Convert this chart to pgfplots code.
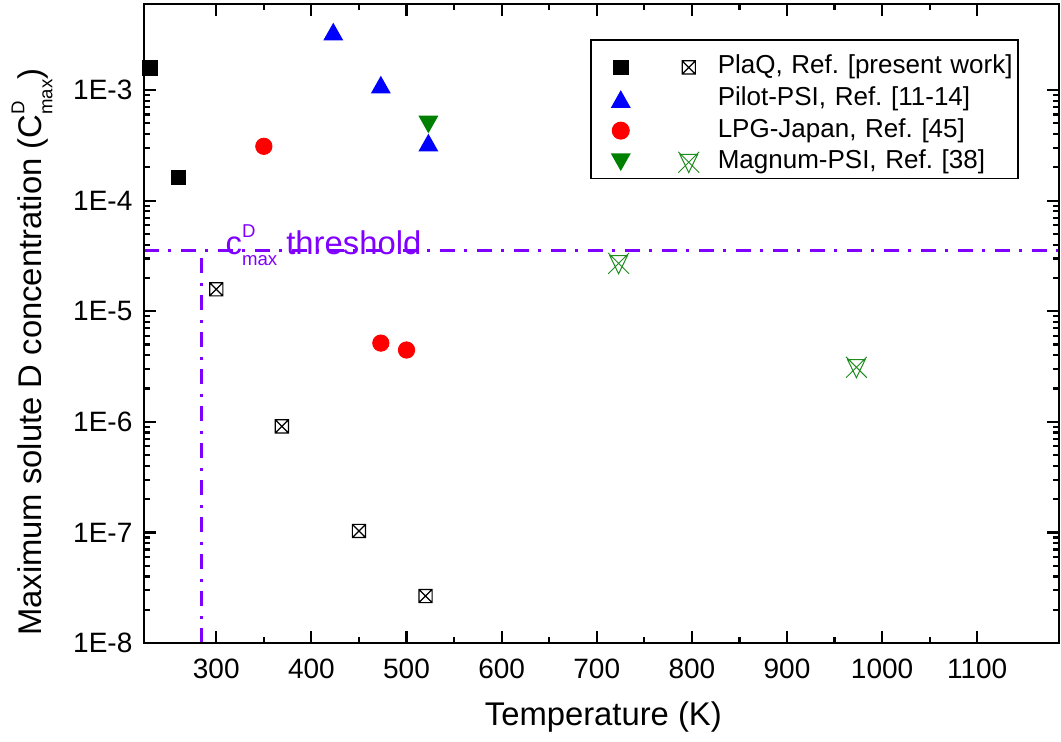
\documentclass[border=0pt]{standalone}
\usepackage{amsmath}
\usepackage{pgfplots}
\pgfplotsset{compat=1.18}
\usepackage{fontspec}
\setmainfont{Liberation Sans}

\definecolor{pgreen}{RGB}{0,128,0}
\definecolor{mgreen}{RGB}{30,140,30}
\definecolor{thr}{RGB}{128,0,255}

% letter with a raised D and a lowered "max"
\newcommand{\cmax}[1]{#1\rlap{\raisebox{8.5pt}{\fontsize{9.3}{10}\selectfont D}}\raisebox{-5.5pt}{\fontsize{9.3}{10}\selectfont max}}

% open square with a cross
\pgfdeclareplotmark{boxx}{%
  \pgfpathrectangle{\pgfqpoint{-\pgfplotmarksize}{-\pgfplotmarksize}}{\pgfqpoint{2\pgfplotmarksize}{2\pgfplotmarksize}}%
  \pgfpathmoveto{\pgfqpoint{-\pgfplotmarksize}{-\pgfplotmarksize}}%
  \pgfpathlineto{\pgfqpoint{\pgfplotmarksize}{\pgfplotmarksize}}%
  \pgfpathmoveto{\pgfqpoint{-\pgfplotmarksize}{\pgfplotmarksize}}%
  \pgfpathlineto{\pgfqpoint{\pgfplotmarksize}{-\pgfplotmarksize}}%
  \pgfusepathqstroke}
% down triangle with a cross
\pgfdeclareplotmark{hglass}{%
  \pgfpathmoveto{\pgfqpoint{-\pgfplotmarksize}{\pgfplotmarksize}}%
  \pgfpathlineto{\pgfqpoint{\pgfplotmarksize}{-\pgfplotmarksize}}%
  \pgfpathmoveto{\pgfqpoint{\pgfplotmarksize}{\pgfplotmarksize}}%
  \pgfpathlineto{\pgfqpoint{-\pgfplotmarksize}{-\pgfplotmarksize}}%
  \pgfpathmoveto{\pgfqpoint{-0.85\pgfplotmarksize}{0.75\pgfplotmarksize}}%
  \pgfpathlineto{\pgfqpoint{0.85\pgfplotmarksize}{0.75\pgfplotmarksize}}%
  \pgfpathlineto{\pgfqpoint{0pt}{-\pgfplotmarksize}}%
  \pgfpathclose
  \pgfusepathqstroke}
% filled triangles centred on their box
\pgfdeclareplotmark{tup}{%
  \pgfpathmoveto{\pgfqpoint{-\pgfplotmarksize}{-0.885\pgfplotmarksize}}%
  \pgfpathlineto{\pgfqpoint{\pgfplotmarksize}{-0.885\pgfplotmarksize}}%
  \pgfpathlineto{\pgfqpoint{0pt}{0.885\pgfplotmarksize}}%
  \pgfpathclose
  \pgfusepathqfill}
\pgfdeclareplotmark{tdown}{%
  \pgfpathmoveto{\pgfqpoint{-\pgfplotmarksize}{0.885\pgfplotmarksize}}%
  \pgfpathlineto{\pgfqpoint{\pgfplotmarksize}{0.885\pgfplotmarksize}}%
  \pgfpathlineto{\pgfqpoint{0pt}{-0.885\pgfplotmarksize}}%
  \pgfpathclose
  \pgfusepathqfill}

\begin{document}
\frenchspacing
\begin{tikzpicture}
\begin{axis}[
    ymode=log,
    scale only axis,
    width=457.5pt, height=319.5pt,
    xmin=224, xmax=1186,
    ymin=1e-8, ymax=6e-3,
    axis on top,
    axis line style={line width=1.3pt},
    major tick style={line width=1.1pt, black},
    minor tick style={line width=1.1pt, black},
    major tick length=6pt,
    minor tick length=3pt,
    tick align=inside,
    xtick={300,400,...,1100},
    minor x tick num=1,
    ytick={1e-8,1e-7,1e-6,1e-5,1e-4,1e-3},
    yticklabels={1E-8,1E-7,1E-6,1E-5,1E-4,1E-3},
    /pgf/number format/assume math mode=true,
    /pgf/number format/set thousands separator={},
    tick label style={font=\fontsize{14}{16}\selectfont},
    xticklabel style={yshift=-4.5pt},
    yticklabel style={xshift=-2.3pt},
    xlabel={Temperature (K)},
    ylabel={Maximum solute D concentration (\cmax{C})},
    label style={font=\fontsize{16.4}{19}\selectfont},
    xlabel style={at={(axis description cs:0.502,0)}, anchor=center, yshift=-37pt},
    ylabel style={at={(axis description cs:-0.1224,0.455)}, anchor=center},
    legend cell align=left,
    legend style={at={(axis description cs:0.4874,0.945)}, anchor=north west,
        draw=black, line width=0.8pt, inner xsep=2pt, inner ysep=3pt,
        font=\fontsize{13}{15}\selectfont, row sep=0.3pt, column sep=2.5pt,
        nodes={inner xsep=0pt, inner ysep=1.5pt, text height=12.5pt, text depth=0pt, text width=148pt, align=left}},
]
% c_max threshold
\addplot[thr, line width=1.6pt, dash pattern=on 7.5pt off 4.7pt on 1.3pt off 5pt, forget plot]
    coordinates {(224,3.52e-5) (1186,3.52e-5)};
\addplot[thr, line width=1.6pt, dash pattern=on 7.5pt off 4.7pt on 1.3pt off 5pt, forget plot]
    coordinates {(284.2,1e-8) (284.2,3.52e-5)};

% PlaQ
\addplot[only marks, black, mark=square*, mark size=3.6pt, forget plot]
    coordinates {(230,1.58e-3) (260,1.63e-4)};
\addplot[only marks, black, mark=boxx, mark size=3.3pt, mark options={line width=0.6pt},
    legend image code/.code={
        \path[draw=none, fill=none] (-13pt,0pt) -- (46pt,0pt);
        \path[draw=black, fill=black, mark size=3.6pt] plot[only marks, mark=square*] coordinates {(0pt,-3pt)};
        \path[draw=black, line width=0.6pt, mark size=3.3pt] plot[only marks, mark=boxx] coordinates {(34pt,-3pt)};
    }]
    coordinates {(300,1.58e-5) (369,9.1e-7) (450,1.03e-7) (520,2.66e-8)};
\addlegendentry{PlaQ, Ref. [present work]}

% Pilot-PSI
\addplot[only marks, blue, mark=tup, mark size=5pt,
    legend image code/.code={
        \path[draw=none, fill=none] (-13pt,0pt) -- (46pt,0pt);
        \path[draw=blue, fill=blue, mark size=5pt] plot[only marks, mark=tup] coordinates {(0pt,-3pt)};
    }]
    coordinates {(423,3.38e-3) (473,1.12e-3) (523,3.35e-4)};
\addlegendentry{Pilot-PSI, Ref. [11-14]}

% LPG-Japan
\addplot[only marks, red, mark=*, mark size=4.1pt,
    legend image code/.code={
        \path[draw=none, fill=none] (-13pt,0pt) -- (46pt,0pt);
        \path[draw=red, fill=red, mark size=4.1pt] plot[only marks, mark=*] coordinates {(0pt,-3pt)};
    }]
    coordinates {(350,3.1e-4) (473,5.15e-6) (500,4.46e-6)};
\addlegendentry{LPG-Japan, Ref. [45]}

% Magnum-PSI
\addplot[only marks, pgreen, mark=tdown, mark size=5pt, forget plot]
    coordinates {(523,4.88e-4)};
\addplot[only marks, mgreen, mark=hglass, mark size=5.2pt, mark options={line width=0.5pt},
    legend image code/.code={
        \path[draw=none, fill=none] (-13pt,0pt) -- (46pt,0pt);
        \path[draw=pgreen, fill=pgreen, mark size=5pt] plot[only marks, mark=tdown] coordinates {(0pt,-3pt)};
        \path[draw=mgreen, line width=0.5pt, mark size=5.2pt] plot[only marks, mark=hglass] coordinates {(34pt,-3pt)};
    }]
    coordinates {(723,2.71e-5) (973,3.11e-6)};
\addlegendentry{Magnum-PSI, Ref. [38]}

\node[thr, anchor=base west, inner sep=0pt, font=\fontsize{16.4}{19}\selectfont]
    at (axis cs:309.5,3.29e-5) {\cmax{c} threshold};
\end{axis}
\pgfresetboundingbox
\path ([shift={(-72pt,-49.5pt)}]current axis.south west) rectangle ([shift={(1pt,2pt)}]current axis.north east);
\end{tikzpicture}
\end{document}
